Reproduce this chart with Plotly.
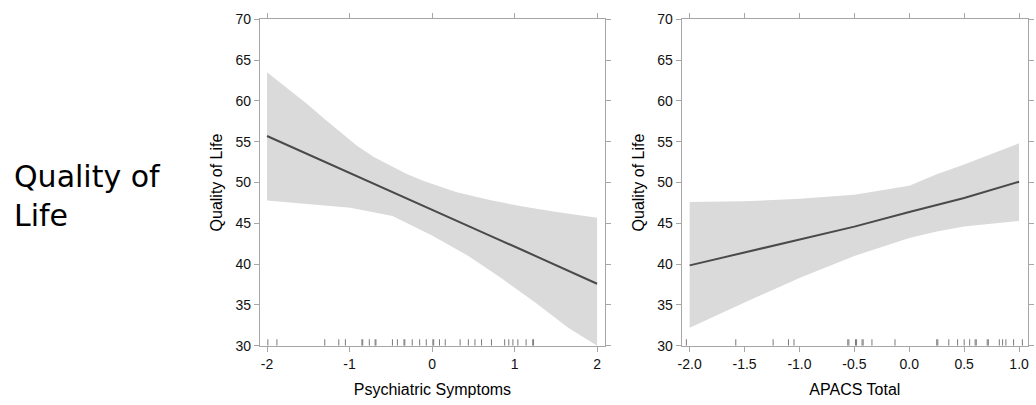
import plotly.graph_objects as go

# ---------------- data ----------------
# Left panel: Psychiatric Symptoms
psy_x = [-2.0, -1.71, -1.51, -1.31, -1.11, -0.91, -0.7, -0.5, -0.3, -0.1, 0.3, 0.7, 1.1, 1.51, 2.0]
psy_fit = [55.7, 54.4, 53.5, 52.6, 51.7, 50.8, 49.85, 48.95, 48.05, 47.15, 45.35, 43.5, 41.7, 39.85, 37.6]
psy_upper = [63.5, 61.2, 59.6, 57.85, 56.2, 54.5, 53.1, 52.0, 51.0, 50.2, 48.8, 47.85, 47.06, 46.4, 45.7]
psy_low_x = [-2.0, -0.99, -0.48, 0.0, 0.44, 0.85, 1.25, 1.65, 2.0]
psy_lower = [47.8, 46.9, 45.9, 43.5, 41.0, 38.2, 35.3, 32.2, 30.0]
psy_rug = [-1.99, -1.88, -1.30, -1.13, -1.05, -0.85, -0.84, -0.76, -0.69, -0.68,
           -0.48, -0.42, -0.34, -0.33, -0.24, -0.15, -0.07, 0.01, 0.02, 0.09,
           0.16, 0.34, 0.44, 0.52, 0.60, 0.72, 0.88, 0.93, 0.98, 1.04, 1.14,
           1.22, 1.23]

# Right panel: APACS Total
apacs_x = [-2.0, -1.5, -1.0, -0.5, 0.0, 0.25, 0.5, 1.0]
apacs_fit = [39.85, 41.45, 43.0, 44.6, 46.4, 47.25, 48.1, 50.1]
apacs_upper = [47.6, 47.7, 48.0, 48.5, 49.6, 51.0, 52.2, 54.8]
apacs_lower = [32.2, 35.3, 38.3, 41.0, 43.2, 44.0, 44.6, 45.3]
apacs_rug = [-2.03, -1.58, -1.24, -1.10, -1.05, -0.56, -0.55, -0.49, -0.48,
             -0.43, -0.42, -0.34, -0.13, 0.25, 0.26, 0.36, 0.44, 0.50, 0.55,
             0.60, 0.61, 0.71, 0.72, 0.82, 0.85, 0.88, 0.95, 1.03]

y_ticks = [30, 35, 40, 45, 50, 55, 60, 65, 70]
psy_ticks = [-2, -1, 0, 1, 2]
psy_ticklabels = ["-2", "-1", "0", "1", "2"]
apacs_ticks = [-2.0, -1.5, -1.0, -0.5, 0.0, 0.5, 1.0]
apacs_ticklabels = ["-2.0", "-1.5", "-1.0", "-0.5", "0.0", "0.5", "1.0"]

RUG_LEN = 0.8
BAND = "#dadada"
LINE = "#4a4a4a"
AXC = "#a6a6a6"

fig = go.Figure()


def add_panel(xa, ya, bx_up, up, bx_low, low, fx, fit, rug):
    # confidence band polygon
    fig.add_trace(go.Scatter(
        x=list(bx_up) + list(bx_low)[::-1],
        y=list(up) + list(low)[::-1],
        fill="toself", fillcolor=BAND, line=dict(width=0),
        mode="lines", hoverinfo="skip", showlegend=False, xaxis=xa, yaxis=ya))
    # fitted line
    fig.add_trace(go.Scatter(
        x=fx, y=fit, mode="lines", line=dict(color=LINE, width=2),
        showlegend=False, xaxis=xa, yaxis=ya))
    # rug
    rx, ry = [], []
    for v in rug:
        rx += [v, v, None]
        ry += [30, 30 + RUG_LEN, None]
    fig.add_trace(go.Scatter(
        x=rx, y=ry, mode="lines", line=dict(color="#7a7a7a", width=1),
        showlegend=False, hoverinfo="skip", xaxis=xa, yaxis=ya, cliponaxis=False))


add_panel("x", "y", psy_x, psy_upper, psy_low_x, psy_lower, psy_x, psy_fit, psy_rug)
add_panel("x2", "y2", apacs_x, apacs_upper, apacs_x, apacs_lower, apacs_x, apacs_fit, apacs_rug)

W, H = 1036, 405
tickfont = dict(family="Liberation Sans, Arial, sans-serif", size=14, color="#111111")
titlefont = dict(family="Liberation Sans, Arial, sans-serif", size=16, color="#000000")

common_axis = dict(showline=True, linecolor=AXC, linewidth=1, mirror="ticks",
                   ticks="outside", ticklen=5, tickcolor=AXC, tickwidth=1,
                   showgrid=False, zeroline=False, tickfont=tickfont)

ydom = [(H - 351.7) / H, (H - 11.7) / H]

fig.update_layout(
    width=W, height=H,
    margin=dict(l=0, r=0, t=0, b=0),
    paper_bgcolor="white", plot_bgcolor="white",
    showlegend=False,
    xaxis=dict(domain=[257 / W, 604 / W], range=[-2.088, 2.097],
               tickvals=psy_ticks, ticktext=psy_ticklabels,
               title=dict(text="Psychiatric Symptoms", font=titlefont, standoff=13),
               anchor="y", **common_axis),
    yaxis=dict(domain=ydom, range=[30, 70], tickvals=y_ticks,
               title=dict(text="Quality of Life", font=titlefont, standoff=8),
               anchor="x", **common_axis),
    xaxis2=dict(domain=[681 / W, 1029 / W], range=[-2.0725, 1.0816],
                tickvals=apacs_ticks, ticktext=apacs_ticklabels,
                title=dict(text="APACS Total", font=titlefont, standoff=13),
                anchor="y2", **common_axis),
    yaxis2=dict(domain=ydom, range=[30, 70], tickvals=y_ticks,
                title=dict(text="Quality of Life", font=titlefont, standoff=8),
                anchor="x2", **common_axis),
    annotations=[dict(text="Quality of<br>Life", xref="paper", yref="paper",
                      x=8 / W, y=(H - 196) / H, xanchor="left", yanchor="middle",
                      align="left", showarrow=False,
                      font=dict(family="DejaVu Sans, Verdana, sans-serif", size=30,
                                color="#000000"))],
)

fig.write_html("out.html")
